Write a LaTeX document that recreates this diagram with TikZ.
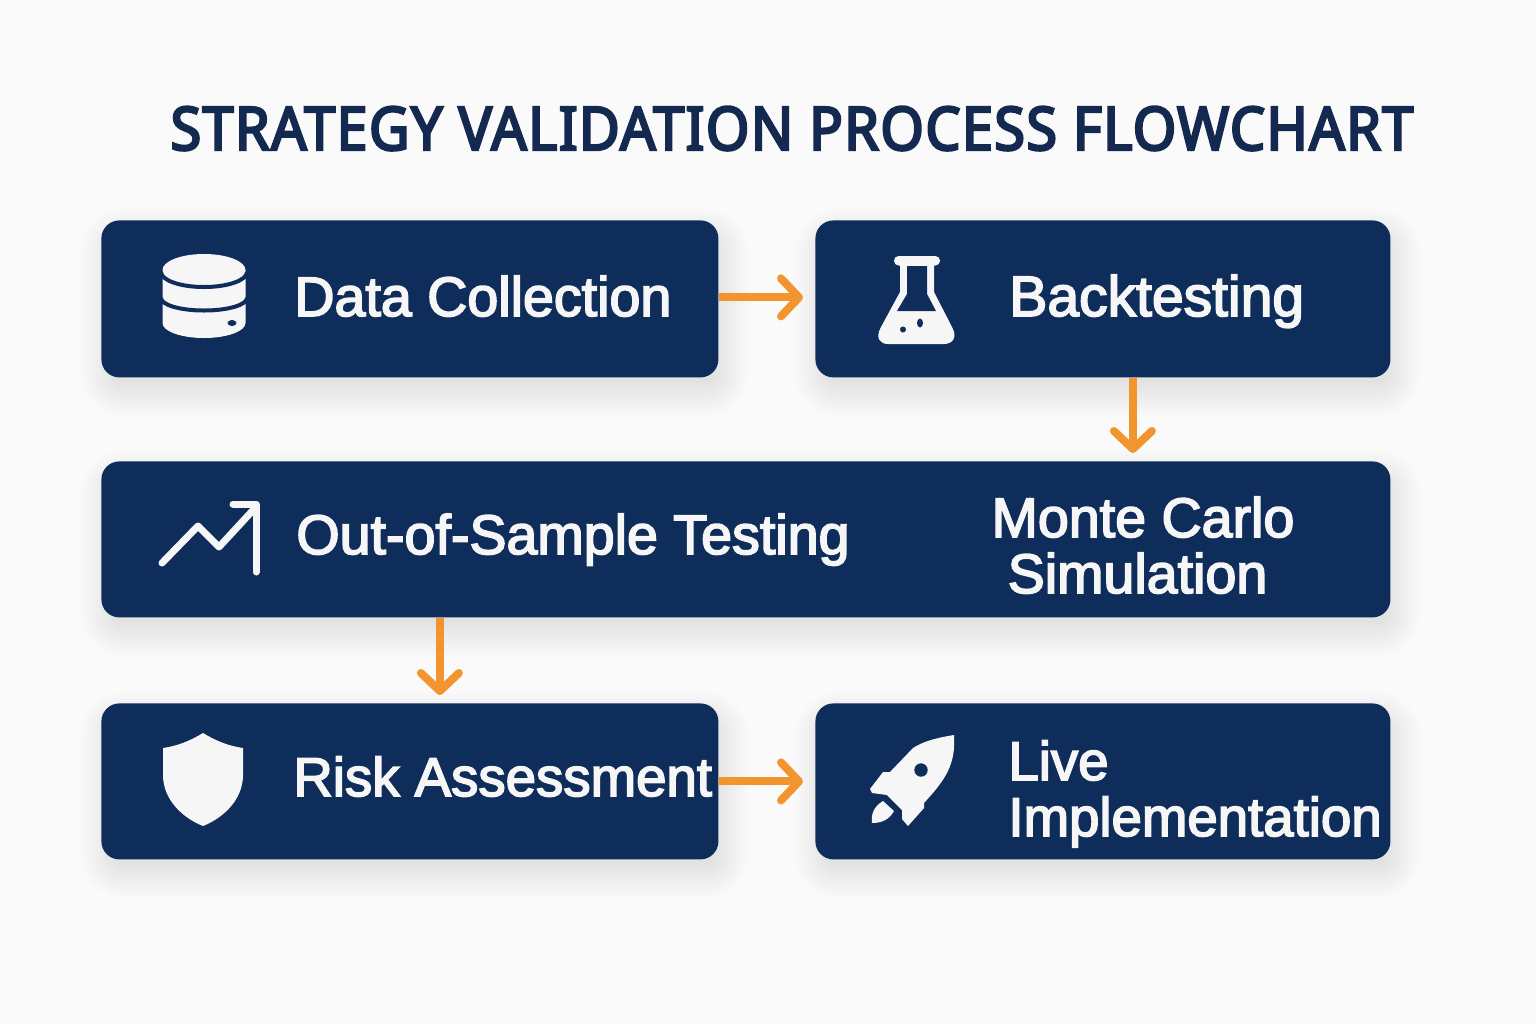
\documentclass[tikz,border=0pt]{standalone}
\usepackage{fontspec}
\setmainfont{Liberation Sans}
\newfontfamily\lab[FakeBold=3]{Liberation Sans}
\newfontfamily\ttl[FakeStretch=0.93,FakeBold=4,LetterSpace=2.3]{Noto Sans}
\usetikzlibrary{arrows.meta,calc}
\definecolor{navy}{HTML}{0F2D5A}
\definecolor{titlenavy}{HTML}{14294F}
\definecolor{flow}{HTML}{F3952F}
\definecolor{paper}{HTML}{FAFAFA}
\definecolor{ink}{HTML}{F6F6F6}
\tikzset{
  box/.style={fill=navy,rounded corners=9pt,inner sep=0pt,anchor=north west},
  label/.style={text=ink,font=\lab\fontsize{27.8}{28}\selectfont,inner sep=0pt},
  flowline/.style={draw=flow,line width=4pt,-{Straight Barb[length=9pt,width=19pt,round]}},
  icon/.style={fill=ink,draw=none},
  iconline/.style={draw=ink,line width=3.5pt,line cap=round,line join=round,fill=none},
  cut/.style={fill=navy,draw=none}
}
\newcommand{\softshadow}[4]{%
  \foreach \g in {-8,-5,...,25}{
    \fill[black,fill opacity=0.0065,rounded corners=9pt+\g*0.5pt]
      (#1+5-\g,#2+14-\g) rectangle (#3+5+\g,#4+14+\g);
  }}
\begin{document}
\begin{tikzpicture}[x=0.5pt,y=-0.5pt]
\useasboundingbox (0,0) rectangle (1536,1024);
\fill[paper] (0,0) rectangle (1536,1024);

\softshadow{101}{220}{718}{377}
\softshadow{815}{220}{1390}{377}
\softshadow{101}{461}{1390}{617}
\softshadow{101}{703}{718}{859}
\softshadow{815}{703}{1390}{859}

\node[box,minimum width=308.5pt,minimum height=78.5pt] (data) at (101,220) {};
\node[box,minimum width=287.5pt,minimum height=78.5pt] (back) at (815,220) {};
\node[box,minimum width=644.5pt,minimum height=78pt] (band) at (101,461) {};
\node[box,minimum width=308.5pt,minimum height=78pt] (risk) at (101,703) {};
\node[box,minimum width=287.5pt,minimum height=78pt] (live) at (815,703) {};

\node[text=titlenavy,font=\ttl\fontsize{30}{30}\selectfont,inner sep=0pt,anchor=base] (title) at (792,150) {STRATEGY VALIDATION PROCESS FLOWCHART};

\node[label,anchor=base west] (t1) at (294,316) {Data Collection};
\node[label,anchor=base west,font=\lab\fontsize{28.5}{28}\selectfont] (t2) at (1009,316) {Backtesting};
\node[label,anchor=base west] (t3) at (296,554) {Out-of-Sample Testing};
\node[label,anchor=base,align=center] (t4) at (1143,593) {Monte Carlo\\[0pt]Simulation\kern5.5pt};
\node[label,anchor=base west,font=\lab\fontsize{27.3}{28}\selectfont] (t5) at (293,796) {Risk Assessment};
\node[label,anchor=base west,align=left,font=\lab\fontsize{27.3}{28}\selectfont] (t6) at (1008,836) {Live\\Implementation};

\draw[flowline] ([yshift=0.75pt]data.east) -- ([xshift=-6pt,yshift=0.75pt]back.west);
\draw[flowline] ([xshift=15pt]back.south) -- ([xshift=15pt,yshift=4pt]back.south |- band.north);
\draw[flowline] ([xshift=15pt]risk.north |- band.south) -- ([xshift=15pt,yshift=4pt]risk.north);
\draw[flowline] (risk.east) -- ([xshift=-6pt]live.west);

% database icon
\fill[icon] (162.5,270) arc (180:360:41.5 and 16) -- (245.5,323) arc (0:180:41.5 and 15) -- cycle;
\draw[navy,line width=2pt] (161,272) arc (180:0:43 and 15);
\draw[navy,line width=2pt] (161,298) arc (180:0:43 and 12.5);
\fill[cut] (232,323) ellipse (4.5 and 3);

% flask icon
\fill[icon] (900,262) -- (934,262) -- (934,292) -- (952,327)
  .. controls (958,338) and (952,344) .. (944,344)
  -- (888,344) .. controls (880,344) and (875,338) .. (881,327)
  -- (900,292) -- cycle;
\fill[icon,rounded corners=2.3pt] (894,256) rectangle (940,265.5);
\fill[cut] (907,266) -- (907,294) -- (897,311) -- (936,311) -- (927,294) -- (927,266) -- cycle;
\fill[cut] (903,329.5) circle (3);
\fill[cut] (920,323) ellipse (3 and 4.5);

% chart icon
\draw[iconline] (162,563) -- (198,526) -- (219,547) -- (255,508);
\draw[iconline] (233,504) -- (256,504) -- (256,572);

% shield icon
\fill[icon] (203,733) .. controls (190,741) and (177,746) .. (163,748)
  -- (163,775) .. controls (163,800) and (183,818) .. (203,826)
  .. controls (223,818) and (243,800) .. (243,775)
  -- (243,748) .. controls (229,746) and (216,741) .. (203,733) -- cycle;

% rocket icon
\fill[icon] (954,735) .. controls (935,738) and (922,742) .. (913,748)
  -- (890,772) -- (883,772) -- (870,789) -- (872,793) -- (887,795) -- (902,810) -- (902,819) -- (908,826)
  -- (924,808) -- (924,803) .. controls (945,780) and (956,765) .. (954,735) -- cycle;
\fill[cut] (921,770) circle (6.7);
\fill[icon] (872,823) .. controls (871,815) and (873,807) .. (883,801) -- (894,811)
  .. controls (889,820) and (881,823) .. (872,823) -- cycle;
\end{tikzpicture}
\end{document}
